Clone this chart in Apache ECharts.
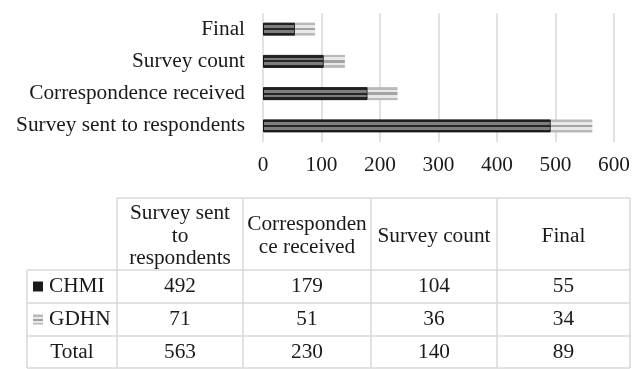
<!DOCTYPE html>
<html>
<head>
<meta charset="utf-8">
<script src="https://cdn.jsdelivr.net/npm/echarts@6/dist/echarts.min.js"></script>
<style>
  html, body { margin: 0; padding: 0; background: #ffffff; }
  #chart { width: 642px; height: 369px; }
</style>
</head>
<body>
<div id="chart"></div>
<script>
// Survey pipeline stages, bottom to top on the chart, left to right in the table
const categories = ['Survey sent to respondents', 'Correspondence received', 'Survey count', 'Final'];
const tableHeaders = ['Survey sent\nto\nrespondents', 'Corresponden\nce received', 'Survey count', 'Final'];
const seriesNames = ['CHMI', 'GDHN'];
const chmi = [492, 179, 104, 55];
const gdhn = [71, 51, 36, 34];
const totals = [563, 230, 140, 89];
const xTicks = [0, 100, 200, 300, 400, 500, 600];

const FONT = '"Liberation Serif", "Times New Roman", serif';
const TEXT = '#1a1a1a';
const RULE = '#d9d9d9';
const SIZE = 21.3;

// Striped fills for the two series
function stripes(bands) {
  const stops = [];
  bands.forEach(function (b) {
    stops.push({ offset: b[0], color: b[2] });
    stops.push({ offset: b[1], color: b[2] });
  });
  return { type: 'linear', x: 0, y: 0, x2: 0, y2: 1, colorStops: stops };
}
const chmiFill = stripes([
  [0, 0.22, '#222222'], [0.22, 0.42, '#7e7e7e'], [0.42, 0.58, '#262626'],
  [0.58, 0.78, '#7e7e7e'], [0.78, 1, '#222222']
]);
const gdhnFill = stripes([
  [0, 0.2, '#b9b9b9'], [0.2, 0.4, '#e8e8e8'], [0.4, 0.6, '#a3a3a3'],
  [0.6, 0.8, '#e8e8e8'], [0.8, 1, '#b9b9b9']
]);

// Data table geometry
const colEdges = [27, 117, 243, 371, 497, 630];
const rowEdges = [198, 270, 303, 336, 368];

const graphics = [];
function hline(y, x1, x2) {
  graphics.push({ type: 'line', shape: { x1: x1, y1: y, x2: x2, y2: y },
    style: { stroke: RULE, lineWidth: 1.5 }, silent: true });
}
function vline(x, y1, y2) {
  graphics.push({ type: 'line', shape: { x1: x, y1: y1, x2: x, y2: y2 },
    style: { stroke: RULE, lineWidth: 1.5 }, silent: true });
}
function cellText(str, cx, cy, align) {
  graphics.push({ type: 'text', x: cx, y: cy, silent: true,
    style: { text: str, font: SIZE + 'px ' + FONT, fill: TEXT,
      textAlign: align || 'center', textVerticalAlign: 'middle', lineHeight: 22.5 } });
}

hline(rowEdges[0], colEdges[1], colEdges[5]);
for (let r = 1; r < rowEdges.length; r++) hline(rowEdges[r], colEdges[0], colEdges[5]);
vline(colEdges[0], rowEdges[1], rowEdges[4]);
for (let c = 1; c < colEdges.length; c++) vline(colEdges[c], rowEdges[0], rowEdges[4]);

const colCenter = function (i) { return (colEdges[i + 1] + colEdges[i + 2]) / 2; };
const rowCenter = function (r) { return (rowEdges[r] + rowEdges[r + 1]) / 2; };

tableHeaders.forEach(function (h, i) { cellText(h, colCenter(i), rowCenter(0) + 2); });
[chmi, gdhn, totals].forEach(function (vals, r) {
  vals.forEach(function (v, i) { cellText(String(v), colCenter(i), rowCenter(r + 1)); });
});

// Row labels with series swatches
seriesNames.forEach(function (name, r) {
  const cy = rowCenter(r + 1);
  graphics.push({ type: 'rect', shape: { x: 33, y: cy - 5, width: 10, height: 10 },
    style: { fill: r === 0 ? '#1a1a1a' : gdhnFill }, silent: true });
  cellText(name, 49, cy, 'left');
});
cellText('Total', (colEdges[0] + colEdges[1]) / 2, rowCenter(3));

const chart = echarts.init(document.getElementById('chart'), null, { renderer: 'canvas' });
chart.setOption({
  animation: false,
  backgroundColor: '#ffffff',
  grid: { left: 263, right: 28, top: 13, bottom: 227, containLabel: false },
  xAxis: {
    type: 'value', min: xTicks[0], max: xTicks[xTicks.length - 1], interval: 100,
    axisLine: { show: false }, axisTick: { show: false },
    splitLine: { show: true, lineStyle: { color: RULE, width: 1.5 } },
    axisLabel: { color: TEXT, fontFamily: FONT, fontSize: SIZE, margin: 13 }
  },
  yAxis: {
    type: 'category', data: categories,
    axisLine: { show: false }, axisTick: { show: false },
    axisLabel: { color: TEXT, fontFamily: FONT, fontSize: SIZE, margin: 18 }
  },
  series: [
    { name: seriesNames[0], type: 'bar', stack: 'total', data: chmi, barWidth: 13,
      itemStyle: { color: chmiFill, borderColor: '#161616', borderWidth: 1 } },
    { name: seriesNames[1], type: 'bar', stack: 'total', data: gdhn, barWidth: 13,
      itemStyle: { color: gdhnFill } }
  ],
  graphic: { elements: graphics }
});
</script>
</body>
</html>
